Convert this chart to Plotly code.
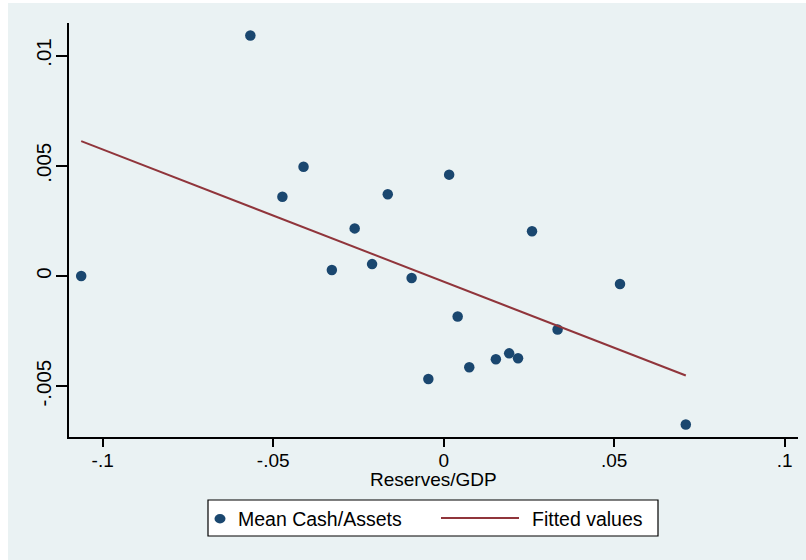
import numpy as np
import plotly.graph_objects as go

# Country observations: reserves/GDP vs mean cash/assets
reserves_gdp = [-0.1063, -0.0567, -0.0411, -0.0473, -0.0164, 0.0016, -0.0261,
                -0.0328, -0.0210, -0.0094, 0.0259, 0.0517, 0.0041, 0.0334,
                -0.0045, 0.0075, 0.0153, 0.0192, 0.0218, 0.0710]
mean_cash_assets = [0.0000, 0.01091, 0.00496, 0.00360, 0.00371, 0.00460, 0.00216,
                    0.00027, 0.00054, -0.00009, 0.00203, -0.00036, -0.00184, -0.00243,
                    -0.00467, -0.00414, -0.00378, -0.00351, -0.00373, -0.00674]

series_points = "Mean Cash/Assets"
series_fit = "Fitted values"

x_tick_vals = [-0.1, -0.05, 0, 0.05, 0.1]
x_tick_text = ["-.1", "-.05", "0", ".05", ".1"]
y_tick_vals = [-0.005, 0, 0.005, 0.01]
y_tick_text = ["-.005", "0", ".005", ".01"]
x_title = "Reserves/GDP"

# OLS fitted line across the observed range
slope, intercept = np.polyfit(reserves_gdp, mean_cash_assets, 1)
fit_x = np.array([min(reserves_gdp), max(reserves_gdp)])
fit_y = slope * fit_x + intercept

NAVY = "#1A476F"
MAROON = "#90353B"
BG = "#EAF2F3"
FONT = "Liberation Sans, Arial, sans-serif"
FS = 19

W, H = 806, 560
L, R, T, B = 69, 8, 23, 123
PW, PH = W - L - R, H - T - B


def px_x(px):
    return (px - L) / PW


def px_y(py):
    return (H - B - py) / PH


fig = go.Figure()
fig.add_trace(go.Scatter(
    x=reserves_gdp, y=mean_cash_assets, mode="markers", name=series_points,
    marker=dict(color=NAVY, size=10.5, line=dict(width=0)), showlegend=False,
))
fig.add_trace(go.Scatter(
    x=fit_x, y=fit_y, mode="lines", name=series_fit,
    line=dict(color=MAROON, width=2), showlegend=False,
))

shapes = [
    # graph region background
    dict(type="rect", xref="paper", yref="paper", layer="below",
         x0=px_x(8), x1=px_x(W), y0=px_y(H), y1=px_y(3),
         fillcolor=BG, line=dict(width=0)),
    # legend box
    dict(type="rect", xref="paper", yref="paper",
         x0=px_x(208), x1=px_x(658), y0=px_y(536), y1=px_y(500),
         fillcolor="white", line=dict(color="black", width=1.2)),
    # legend marker
    dict(type="circle", xref="paper", yref="paper",
         x0=px_x(214.5), x1=px_x(225.5), y0=px_y(523.5), y1=px_y(514),
         fillcolor=NAVY, line=dict(width=0)),
    # legend line sample
    dict(type="line", xref="paper", yref="paper",
         x0=px_x(441), x1=px_x(519), y0=px_y(518), y1=px_y(518),
         line=dict(color=MAROON, width=2)),
]

annotations = [
    dict(text=x_title, xref="paper", yref="paper", x=0.5, y=px_y(479),
         xanchor="center", yanchor="middle", showarrow=False,
         font=dict(family=FONT, size=FS, color="black")),
    dict(text=series_points, xref="paper", yref="paper", x=px_x(236), y=px_y(519),
         xanchor="left", yanchor="middle", showarrow=False,
         font=dict(family=FONT, size=FS + 0.5, color="black")),
    dict(text=series_fit, xref="paper", yref="paper", x=px_x(530), y=px_y(519),
         xanchor="left", yanchor="middle", showarrow=False,
         font=dict(family=FONT, size=FS + 0.5, color="black")),
]

axis_common = dict(
    showline=True, linecolor="black", linewidth=1.5,
    ticks="outside", tickcolor="black", tickwidth=1.5,
    zeroline=False,
)

fig.update_layout(
    width=W, height=H,
    margin=dict(l=L, r=R, t=T, b=B, pad=0),
    paper_bgcolor="white", plot_bgcolor="white",
    shapes=shapes, annotations=annotations,
    xaxis=dict(range=[-0.10988, 0.1039], tickvals=x_tick_vals, ticktext=x_tick_text,
               ticklen=8, showgrid=False, ticklabelstandoff=-3,
               tickfont=dict(family=FONT, size=FS, color="black"), **axis_common),
    yaxis=dict(range=[-0.007305, 0.01148], tickvals=y_tick_vals, ticktext=y_tick_text,
               ticklen=11, tickangle=-90, showgrid=True, gridcolor=BG, gridwidth=1.6,
               ticklabelstandoff=-3,
               tickfont=dict(family=FONT, size=FS + 1.5, color="black"), **axis_common),
)

fig.write_html("out.html")
